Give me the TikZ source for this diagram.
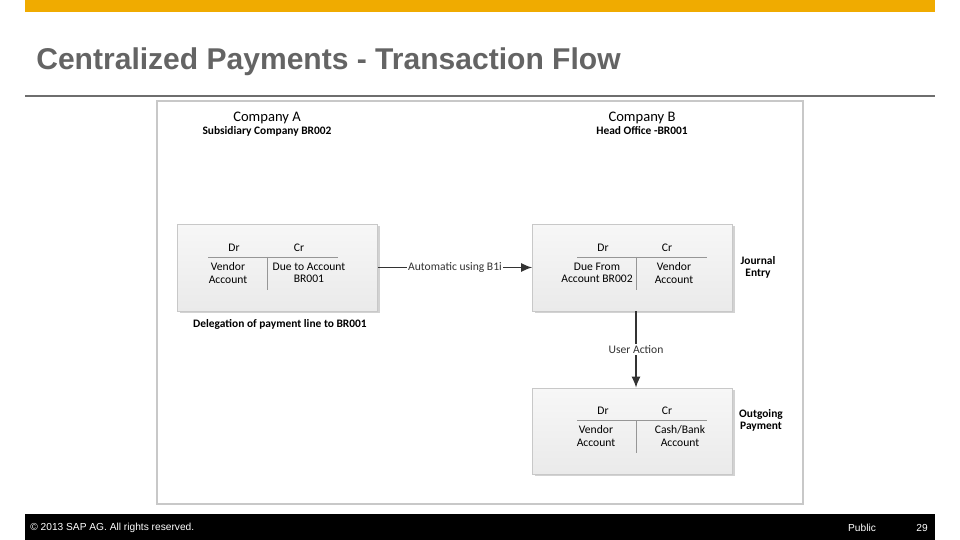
\documentclass[tikz,border=0pt]{standalone}
\usepackage{fontspec}
\setmainfont{Liberation Sans}
\newfontfamily\calfont{Carlito}
\usetikzlibrary{arrows.meta,positioning,shadows}
\definecolor{SapGold}{RGB}{240,171,0}
\definecolor{TitleGray}{RGB}{100,100,100}
\definecolor{RuleGray}{RGB}{110,110,110}
\definecolor{FrameGray}{RGB}{200,200,200}
\definecolor{BoxTop}{RGB}{247,247,247}
\definecolor{BoxBottom}{RGB}{234,234,234}
\definecolor{TableGray}{RGB}{150,150,150}
\tikzset{
  acctbox/.style={draw=FrameGray,line width=.4pt,top color=BoxTop,bottom color=BoxBottom,minimum width=4cm,minimum height=1.74cm,inner sep=0pt,
    drop shadow={shadow xshift=.45mm,shadow yshift=-.45mm,fill=black!35,opacity=.5}},
  lbl/.style={font=\calfont\fontsize{6.6}{6.9}\selectfont,align=center,inner sep=1pt},
  boldlbl/.style={font=\calfont\bfseries\fontsize{6.5}{6.9}\selectfont,align=center,inner sep=1pt},
  flow/.style={-{Latex[length=2.2mm,width=1.8mm]},line width=.8pt,black!80},
  foot/.style={font=\fontsize{5.8}{7}\selectfont,text=white,inner sep=0pt}
}
\begin{document}
\begin{tikzpicture}[x=.02cm,y=-.02cm]
\useasboundingbox (0,0) rectangle (960,540);
% page frame
\fill[SapGold] (25,0) rectangle (935,12);
\node[anchor=base west,text=TitleGray,font=\bfseries\fontsize{17.1}{19}\selectfont,inner sep=0pt] (title) at (36,70) {Centralized Payments - Transaction Flow};
\draw[RuleGray,line width=.6pt] (25,96)--(935,96);
\draw[FrameGray,line width=.6pt] (157,101) rectangle (803,504);
\fill[black] (25,514) rectangle (935,540);
\node[foot,anchor=west] (copy) at (30,528) {\textcopyright{} 2013 SAP AG. All rights reserved.};
\node[foot] (public) at (862,528) {Public};\node[foot] (page) at (922,528) {29};
% companies
\node[lbl,font=\calfont\fontsize{8.3}{9}\selectfont] (compA) at (267,118) {Company A};\node[boldlbl] (subA) at (267,131) {Subsidiary Company BR002};
\node[lbl,font=\calfont\fontsize{8.3}{9}\selectfont] (compB) at (642,118) {Company B};\node[boldlbl] (subB) at (642,131) {Head Office -BR001};
% account boxes
\node[acctbox] (boxA) at (277.5,267.5) {};
\node[acctbox] (boxB) at (632.5,267.5) {};
\node[acctbox,minimum height=1.72cm] (boxC) at (632.5,431) {};
% tables
\draw[TableGray,line width=.4pt] (208,257)--(338,257) (267,257)--(267,290);
\node[lbl] (drA) at (234,248) {Dr};\node[lbl] (crA) at (299,248) {Cr};
\node[lbl] (vendA) at (228,273) {Vendor\\Account};\node[lbl] (dueA) at (309,273) {Due to Account\\BR001};
\draw[TableGray,line width=.4pt] (577,257)--(707,257) (636,257)--(636,290);
\node[lbl] (drB) at (603,248) {Dr};\node[lbl] (crB) at (667,248) {Cr};
\node[lbl] (dueB) at (597,273) {Due From\\Account BR002};\node[lbl] (vendB) at (674,273) {Vendor\\Account};
\draw[TableGray,line width=.4pt] (577,420)--(707,420) (636,420)--(636,453);
\node[lbl] (drC) at (603,411) {Dr};\node[lbl] (crC) at (667,411) {Cr};
\node[lbl] (vendC) at (596,436) {Vendor\\Account};\node[lbl] (cashC) at (680,436) {Cash/Bank\\Account};
% side notes
\node[boldlbl] (journal) at (758,267) {Journal\\Entry};
\node[boldlbl] (outgo) at (761,420) {Outgoing\\Payment};
\node[boldlbl] (deleg) at (280,324) {Delegation of payment line to BR001};
% flow
\draw[flow] (boxA) -- node[lbl,fill=white,inner sep=.5pt] (auto) {Automatic using B1i} (boxB);
\draw[flow] ([xshift=.07cm]boxB.south) -- node[lbl,fill=white] (user) {User Action} ([xshift=.07cm]boxC.north);
\end{tikzpicture}
\end{document}
